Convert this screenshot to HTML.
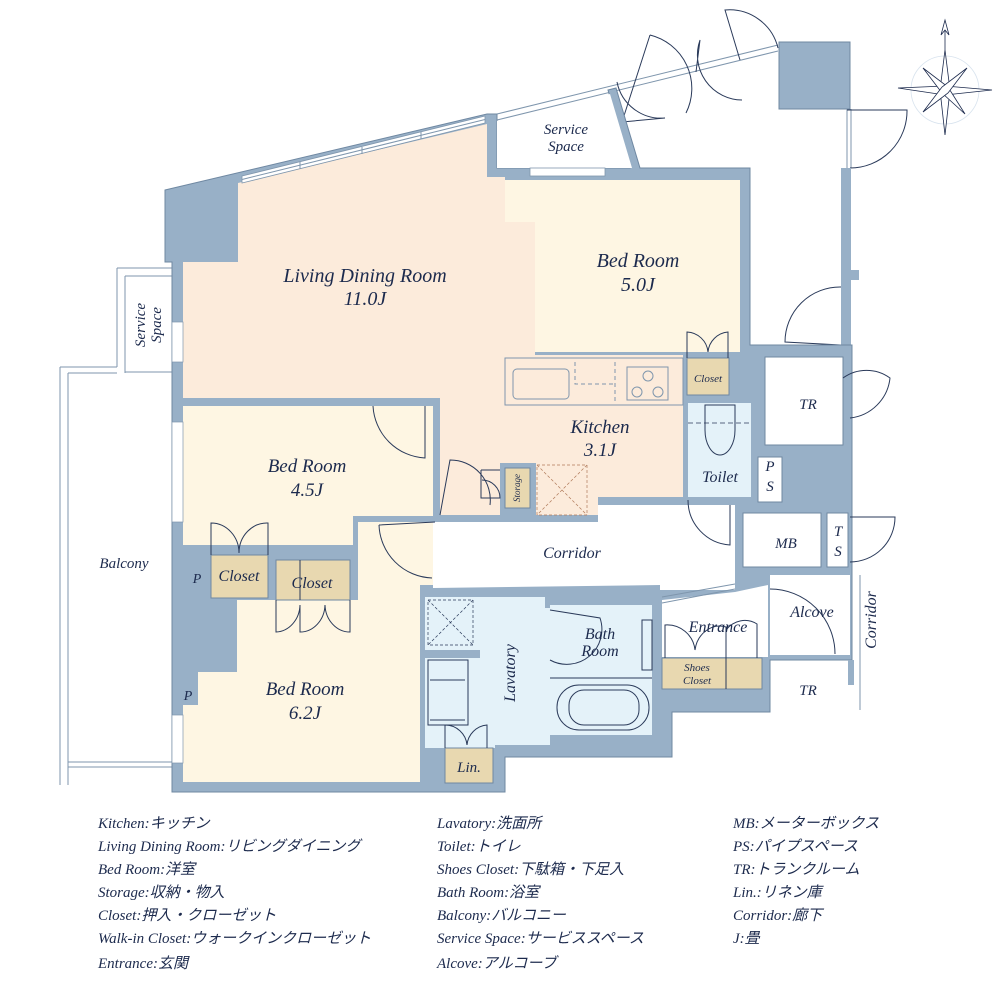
<!DOCTYPE html>
<html><head><meta charset="utf-8"><style>
html,body{margin:0;padding:0;background:#fff;width:1000px;height:1000px;overflow:hidden}
svg{display:block}
.t{font-family:"Liberation Serif","Noto Serif CJK SC",serif;font-style:italic;fill:#1c2a4d;text-anchor:middle}
.lg{font-family:"Liberation Serif","Noto Sans CJK JP",serif;font-style:italic;fill:#1c2a4d;font-size:15px}
.ln{fill:none;stroke:#2a3a5a;stroke-width:1}
.lw{fill:none;stroke:#7f96ad;stroke-width:1}
</style></head><body>
<svg width="1000" height="1000" viewBox="0 0 1000 1000" xmlns="http://www.w3.org/2000/svg">
<path d="M497,114 L778,45 M497,120 L778,51" class="lw"/>
<path d="M622,122 L650,35 M650,35 A55,55 0 0 1 686,113" class="ln" stroke-width="0.8"/>
<path d="M622,122 L665,118 A45,45 0 0 1 617,82" class="ln" stroke-width="0.8"/>
<path d="M740,60 L725,10 A50,50 0 0 1 778,48" class="ln" stroke-width="0.8"/>
<path d="M696,72 L700,40 A45,45 0 0 0 742,100 " class="ln" stroke-width="0.8"/>
<rect x="779" y="42" width="71" height="67" fill="#98b0c7" stroke="#6f88a2"/>
<path d="M847,109 L847,168 M851,109 L851,168" class="lw"/>
<path d="M847,110 L907,110 A57,57 0 0 1 850,168" class="ln" stroke-width="0.8"/>
<rect x="841" y="168" width="10" height="180" fill="#98b0c7"/>
<rect x="851" y="270" width="8" height="10" fill="#98b0c7"/>
<path d="M841,287 A55,55 0 0 0 785,342 L841,345" class="ln" stroke-width="0.8"/>
<path d="M60,367 L60,785 M68,373 L68,785 M60,367 L117,367 M68,373 L117,373 M68,762 L172,762 M68,767 L172,767" class="lw"/>
<path d="M117,268 L117,367 M125,276 L125,373 M117,268 L172,268 M125,276 L172,276 M125,372 L172,372" class="lw"/>
<polygon points="165,190 487,114 497,114 497,168 630,168 608,90 616,88 640,168 750,168 750,345 852,345 852,660 770,660 770,712 672,712 672,757 505,757 505,792 172,792 172,262 165,262" fill="#98b0c7" stroke="#6f88a2" stroke-width="1"/>
<polygon points="497,121 610,94 632,168 497,168" fill="#fff"/>
<rect x="530" y="168" width="75" height="8" fill="#fff" stroke="#7f96ad" stroke-width="0.8"/>
<polygon points="183,262 238,262 238,183 487,124 487,177 505,177 505,222 535,222 535,355 683,355 683,497 598,497 598,515 440,515 440,398 183,398" fill="#fcebdb"/>
<polygon points="242,176 485,116 485,123 242,183" fill="#fff" stroke="#7f96ad" stroke-width="0.8"/>
<line x1="242" y1="179.5" x2="485" y2="119.5" class="lw" stroke-width="0.6"/>
<path d="M300,162 L300,169 M362,147 L362,154 M421,132 L421,139" class="lw"/>
<polygon points="505,180 740,180 740,352 535,352 535,222 505,222" fill="#fef6e3"/>
<polygon points="183,406 433,406 433,516 353,516 353,545 183,545" fill="#fef6e3"/>
<polygon points="358,522 433,522 433,585 420,585 420,782 183,782 183,705 198,705 198,672 237,672 237,600 358,600" fill="#fef6e3"/>
<rect x="211" y="555" width="57" height="43" fill="#e8d8b0" stroke="#6f88a2"/>
<rect x="276" y="560" width="74" height="40" fill="#e8d8b0" stroke="#6f88a2"/>
<line x1="300" y1="560" x2="300" y2="600" class="ln"/>
<path d="M211,555 L211,523 A28,30 0 0 1 239,553 A28,30 0 0 1 268,523 L268,555" class="ln" stroke-width="0.8"/>
<path d="M276,600 L276,632 A25,28 0 0 0 300,605 L300,632 A25,28 0 0 0 325,605 A25,28 0 0 0 350,632 L350,600" class="ln" stroke-width="0.8"/>
<rect x="687" y="358" width="42" height="37" fill="#e8d8b0" stroke="#6f88a2"/>
<path d="M687,358 L687,332 A22,22 0 0 1 708,352 A22,22 0 0 1 728,332 L728,358" class="ln" stroke-width="0.8"/>
<polygon points="440,522 598,522 598,505 688,505 735,505 735,590 660,590 660,585 433,588 433,522" fill="#fff"/>
<rect x="688" y="403" width="63" height="94" fill="#e4f2f9"/>
<path d="M705,405 L705,430 A15,25 0 0 0 735,430 L735,405 Z" class="ln" stroke-width="0.8" fill="#e4f2f9"/>
<line x1="688" y1="423" x2="751" y2="423" stroke="#2a3a5a" stroke-dasharray="5,3" stroke-width="0.8"/>
<path d="M688,500 A45,45 0 0 0 730,545 L730,505" class="ln" stroke-width="0.8"/>
<rect x="765" y="357" width="78" height="88" fill="#fff" stroke="#6f88a2"/>
<path d="M843,378 A40,40 0 0 1 890,378 A45,45 0 0 1 850,418" class="ln" stroke-width="0.8"/>
<rect x="758" y="457" width="24" height="45" fill="#fff" stroke="#6f88a2"/>
<rect x="743" y="513" width="78" height="54" fill="#fff" stroke="#6f88a2"/>
<rect x="827" y="513" width="21" height="54" fill="#fff" stroke="#6f88a2"/>
<path d="M850,517 L895,517 A45,45 0 0 1 850,562" class="ln" stroke-width="0.8"/>
<rect x="770" y="575" width="80" height="80" fill="#fff"/>
<path d="M770,589 A65,65 0 0 1 835,654 L835,654" class="ln" stroke-width="0.8"/>
<line x1="860" y1="575" x2="860" y2="710" class="lw"/>
<rect x="775" y="667" width="73" height="45" fill="#fff"/>
<rect x="848" y="660" width="6" height="25" fill="#98b0c7"/>
<polygon points="662,600 735,592 768,585 768,657 662,657" fill="#fff"/>
<path d="M662,597 L735,584 M662,603 L735,589" class="lw"/>
<rect x="662" y="658" width="100" height="31" fill="#e8d8b0" stroke="#6f88a2"/>
<line x1="726" y1="658" x2="726" y2="689" class="ln"/>
<path d="M665,658 L665,625 A28,28 0 0 1 695,650 A25,28 0 0 1 726,627 L726,658 M726,630 A25,28 0 0 1 757,624 L757,658" class="ln" stroke-width="0.8"/>
<polygon points="428,597 545,597 545,608 550,608 550,745 495,745 495,748 425,748 425,597" fill="#e4f2f9"/>
<rect x="428" y="600" width="45" height="45" fill="none" stroke="#2a3a5a" stroke-dasharray="3,2" stroke-width="0.7"/>
<path d="M428,600 L473,645 M473,600 L428,645" stroke="#2a3a5a" stroke-dasharray="3,2" stroke-width="0.7"/>
<rect x="425" y="650" width="55" height="8" fill="#98b0c7"/>
<rect x="428" y="660" width="40" height="65" fill="none" class="ln" stroke-width="0.7"/>
<path d="M430,680 L465,680 M430,720 L465,720" class="ln" stroke-width="0.7"/>
<rect x="445" y="748" width="48" height="35" fill="#e8d8b0" stroke="#6f88a2"/>
<path d="M445,748 L445,725 A22,22 0 0 1 467,745 A22,22 0 0 1 487,725 L487,748" class="ln" stroke-width="0.8"/>
<rect x="550" y="605" width="102" height="130" fill="#e4f2f9"/>
<line x1="550" y1="678" x2="652" y2="678" class="ln" stroke-width="0.7"/>
<rect x="642" y="620" width="10" height="50" fill="none" class="ln" stroke-width="0.7"/>
<rect x="557" y="685" width="92" height="45" rx="22" fill="none" class="ln" stroke-width="0.8"/>
<rect x="569" y="690" width="70" height="35" rx="15" fill="none" class="ln" stroke-width="0.7"/>
<path d="M550,610 L600,618 A35,35 0 0 1 550,660" class="ln" stroke-width="0.8"/>
<rect x="505" y="358" width="178" height="47" fill="none" class="lw"/>
<rect x="513" y="369" width="56" height="30" rx="4" fill="none" class="lw"/>
<path d="M575,362 L575,384 L615,384 M615,362 L615,404" class="lw" stroke-dasharray="4,3"/>
<rect x="627" y="367" width="41" height="33" fill="none" class="lw"/>
<circle cx="648" cy="376" r="5" class="lw"/><circle cx="637" cy="392" r="5" class="lw"/><circle cx="658" cy="392" r="5" class="lw"/>
<rect x="500" y="463" width="36" height="52" fill="#98b0c7"/>
<rect x="505" y="468" width="25" height="40" fill="#e8d8b0" stroke="#6f88a2"/>
<rect x="537" y="465" width="50" height="50" fill="none" stroke="#b07a5a" stroke-dasharray="3,2" stroke-width="0.7"/>
<path d="M537,465 L587,515 M587,465 L537,515" stroke="#b07a5a" stroke-dasharray="3,2" stroke-width="0.7"/>
<path d="M440,515 L450,460 A40,40 0 0 1 490,505" class="ln" stroke-width="0.8"/>
<path d="M481,470 L500,470 M481,470 L481,498 L500,498 A18,18 0 0 0 482,480" class="ln" stroke-width="0.7"/>
<path d="M373,406 A55,55 0 0 0 425,458 L425,406" class="ln" stroke-width="0.8"/>
<path d="M379,525 L435,522 M379,525 A55,55 0 0 0 432,578" class="ln" stroke-width="0.8"/>
<rect x="172" y="322" width="11" height="40" fill="#fff" stroke="#7f96ad" stroke-width="0.7"/>
<rect x="172" y="422" width="11" height="100" fill="#fff" stroke="#7f96ad" stroke-width="0.7"/>
<rect x="172" y="715" width="11" height="48" fill="#fff" stroke="#7f96ad" stroke-width="0.7"/>
<g transform="translate(945,90)" stroke="#1c2a4d" stroke-width="0.8" fill="#fff">
<circle r="34" fill="none" stroke="#d8e3ee"/>
<polygon points="0,-70 4,-55 0,-60 -4,-55"/>
<line x1="0" y1="-60" x2="0" y2="-40"/>
<polygon points="0,-40 5,0 0,45 -5,0"/>
<polygon points="-47,-2 0,-4 47,0 0,5"/>
<polygon points="-22,-22 3,-3 20,24 -3,3"/>
<polygon points="22,-22 3,3 -22,22 -3,-3"/>
</g>
<text class="t" x="365" y="282" font-size="20">Living Dining Room</text>
<text class="t" x="365" y="305" font-size="20">11.0J</text>
<text class="t" x="566" y="134" font-size="15">Service</text>
<text class="t" x="566" y="151" font-size="15">Space</text>
<text class="t" x="638" y="267" font-size="20">Bed Room</text>
<text class="t" x="638" y="291" font-size="20">5.0J</text>
<text class="t" x="600" y="433" font-size="19">Kitchen</text>
<text class="t" x="600" y="456" font-size="19">3.1J</text>
<text class="t" x="307" y="472" font-size="19">Bed Room</text>
<text class="t" x="307" y="496" font-size="19">4.5J</text>
<text class="t" x="305" y="695" font-size="19">Bed Room</text>
<text class="t" x="305" y="719" font-size="19">6.2J</text>
<text class="t" x="124" y="568" font-size="15">Balcony</text>
<text class="t" x="239" y="581" font-size="16">Closet</text>
<text class="t" x="312" y="588" font-size="16">Closet</text>
<text class="t" x="197" y="583" font-size="14">P</text>
<text class="t" x="188" y="700" font-size="14">P</text>
<text class="t" x="708" y="382" font-size="11">Closet</text>
<text class="t" x="720" y="482" font-size="16">Toilet</text>
<text class="t" x="770" y="471" font-size="15">P</text>
<text class="t" x="770" y="491" font-size="15">S</text>
<text class="t" x="808" y="409" font-size="15">TR</text>
<text class="t" x="786" y="548" font-size="15">MB</text>
<text class="t" x="838" y="536" font-size="15">T</text>
<text class="t" x="838" y="556" font-size="15">S</text>
<text class="t" x="812" y="617" font-size="16">Alcove</text>
<text class="t" x="808" y="695" font-size="15">TR</text>
<text class="t" x="718" y="632" font-size="16">Entrance</text>
<text class="t" x="697" y="671" font-size="11">Shoes</text>
<text class="t" x="697" y="684" font-size="11">Closet</text>
<text class="t" x="600" y="639" font-size="16">Bath</text>
<text class="t" x="600" y="656" font-size="16">Room</text>
<text class="t" x="469" y="772" font-size="15">Lin.</text>
<text class="t" x="572" y="558" font-size="16">Corridor</text>
<text class="t" font-size="16" transform="translate(876,620) rotate(-90)">Corridor</text>
<text class="t" font-size="16" transform="translate(515,673) rotate(-90)">Lavatory</text>
<text class="t" font-size="9" transform="translate(520,488) rotate(-90)">Storage</text>
<text class="t" font-size="15" transform="translate(145,325) rotate(-90)">Service</text>
<text class="t" font-size="15" transform="translate(161,325) rotate(-90)">Space</text>
<text class="lg" x="98" y="828">Kitchen:キッチン</text>
<text class="lg" x="98" y="851">Living Dining Room:リビングダイニング</text>
<text class="lg" x="98" y="874">Bed Room:洋室</text>
<text class="lg" x="98" y="897">Storage:収納・物入</text>
<text class="lg" x="98" y="920">Closet:押入・クローゼット</text>
<text class="lg" x="98" y="943">Walk-in Closet:ウォークインクローゼット</text>
<text class="lg" x="98" y="968">Entrance:玄関</text>
<text class="lg" x="437" y="828">Lavatory:洗面所</text>
<text class="lg" x="437" y="851">Toilet:トイレ</text>
<text class="lg" x="437" y="874">Shoes Closet:下駄箱・下足入</text>
<text class="lg" x="437" y="897">Bath Room:浴室</text>
<text class="lg" x="437" y="920">Balcony:バルコニー</text>
<text class="lg" x="437" y="943">Service Space:サービススペース</text>
<text class="lg" x="437" y="968">Alcove:アルコーブ</text>
<text class="lg" x="733" y="828">MB:メーターボックス</text>
<text class="lg" x="733" y="851">PS:パイプスペース</text>
<text class="lg" x="733" y="874">TR:トランクルーム</text>
<text class="lg" x="733" y="897">Lin.:リネン庫</text>
<text class="lg" x="733" y="920">Corridor:廊下</text>
<text class="lg" x="733" y="943">J:畳</text>
</svg>
</body></html>
